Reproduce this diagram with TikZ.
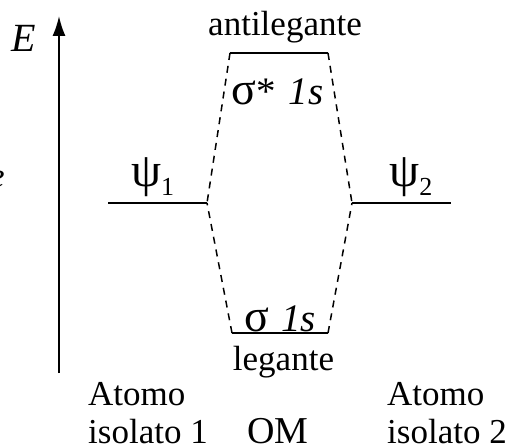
\documentclass[tikz,border=0pt]{standalone}
\usepackage{fontspec}
\setmainfont{Liberation Serif}
\usetikzlibrary{arrows.meta}
\newcommand{\grk}[1]{{\fontsize{46bp}{48bp}\selectfont #1}}
\newcommand{\psil}[1]{{\raisebox{8bp}{\fontsize{48bp}{50bp}\selectfont ψ}\raisebox{-1bp}{\fontsize{26bp}{26bp}\selectfont #1}}}
\begin{document}
\begin{tikzpicture}[x=1bp,y=-1bp,
  lvl/.style={line width=1.8bp},
  dsh/.style={line width=1.5bp, dash pattern=on 7bp off 6bp},
  lbl/.style={anchor=base, inner sep=0pt, font=\fontsize{35bp}{40bp}\selectfont},
  mo/.style={anchor=base west, inner sep=0pt, font=\fontsize{39bp}{42bp}\selectfont}]
\useasboundingbox (0,0) rectangle (511,447);
% level end points
\coordinate (p1L) at (108,203); \coordinate (p1R) at (207,203);
\coordinate (p2L) at (352,203); \coordinate (p2R) at (451,203);
\coordinate (aL) at (230,53); \coordinate (aR) at (328,53);
\coordinate (bL) at (232,333); \coordinate (bR) at (328,333);
\coordinate (axB) at (59,373); \coordinate (axT) at (59,16);
% energy axis
\draw[line width=1.8bp, -{Latex[length=20bp,width=13bp]}] (axB) -- (axT);
\node[anchor=base, inner sep=0pt, font=\fontsize{40bp}{42bp}\selectfont\itshape] (E) at (24,52) {E};
\node[anchor=base west, inner sep=0pt, font=\fontsize{35bp}{40bp}\selectfont\itshape] (efrag) at (-11,188) {e};
% levels
\draw[lvl] (p1L) -- (p1R);
\draw[lvl] (p2L) -- (p2R);
\draw[lvl] (aL) -- (aR);
\draw[lvl] (bL) -- (bR);
% correlation lines
\draw[dsh] (aL) -- (p1R);
\draw[dsh] (bL) -- (p1R);
\draw[dsh] (aR) -- (p2L);
\draw[dsh] (bR) -- (p2L);
% labels
\node[lbl] (anti) at (285,36) {antilegante};
\node[mo] (sstar) at (231,105) {\grk{σ}*\hspace{13bp}\textit{1s}};
\node[mo] (sig) at (244,331) {\grk{σ}\hspace{12bp}\textit{1s}};
\node[lbl] (leg) at (283.5,370) {legante};
\node[anchor=base west, inner sep=0pt] (psi1) at (131,195) {\psil{1}};
\node[anchor=base west, inner sep=0pt] (psi2) at (389,195) {\psil{2}};
\node[lbl, anchor=base west] (at1) at (88,405) {Atomo};
\node[lbl, anchor=base west] (is1) at (88,443) {isolato 1};
\node[mo, font=\fontsize{38bp}{42bp}\selectfont] (om) at (247,443) {OM};
\node[lbl, anchor=base west] (at2) at (387,405) {Atomo};
\node[lbl, anchor=base west] (is2) at (387,443) {isolato 2};
\end{tikzpicture}
\end{document}
